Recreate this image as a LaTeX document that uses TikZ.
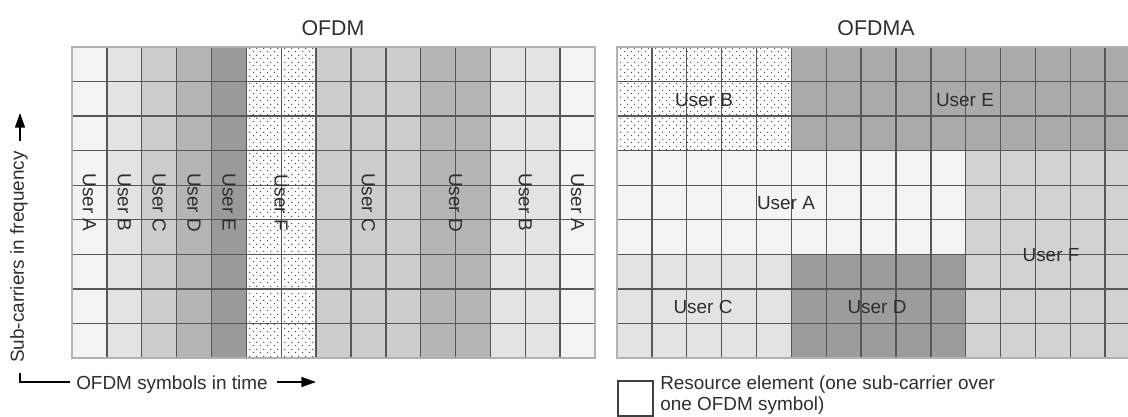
\documentclass[tikz,border=0pt]{standalone}
\usepackage{fontspec}
\setmainfont{Liberation Sans}
\usetikzlibrary{patterns,arrows.meta}

% staggered dot texture for the dotted allocations
\pgfdeclarepatternformonly{finedots}{\pgfqpoint{0pt}{0pt}}{\pgfqpoint{5.25pt}{5.25pt}}{\pgfqpoint{5.25pt}{5.25pt}}{%
  \pgfpathcircle{\pgfqpoint{1.3pt}{1.3pt}}{0.6pt}%
  \pgfpathcircle{\pgfqpoint{3.925pt}{3.925pt}}{0.6pt}%
  \pgfusepath{fill}%
}

\definecolor{shA}{HTML}{F4F4F4}
\definecolor{shB}{HTML}{E3E3E3}
\definecolor{shC}{HTML}{CDCDCD}
\definecolor{shD}{HTML}{B5B5B5}
\definecolor{shE}{HTML}{9A9A9A}
\definecolor{shF}{HTML}{D2D2D2}
\definecolor{shEr}{HTML}{AAAAAA}
\definecolor{shDr}{HTML}{9C9C9C}

\begin{document}
\begin{tikzpicture}[x=0.75pt,y=-0.75pt,
  lbl/.style={font=\fontsize{14.2pt}{17pt}\selectfont, text=black!82, inner sep=0pt},
  ttl/.style={font=\fontsize{16pt}{19pt}\selectfont, text=black!82, inner sep=0pt},
  gridline/.style={draw=black!66, line width=1.05pt},
  frame/.style={draw=black!30, line width=1pt},
  dotfill/.style={pattern=finedots, pattern color=black!72},
  axisarrow/.style={draw=black, line width=1pt, -{Triangle[length=11pt,width=7.5pt]}}]

\useasboundingbox (0,0) rectangle (1128,417);

\def\Lx{72}
\def\Rx{617}
\def\cw{34.87}
\def\Ty{47}
\def\rh{34.56}

% ---------------- OFDM grid ----------------
\foreach \c/\n/\col in {0/1/shA,1/1/shB,2/1/shC,3/1/shD,4/1/shE,7/3/shC,10/2/shD,12/2/shB,14/1/shA}
  \fill[\col] ({\Lx+\c*\cw},\Ty) rectangle ({\Lx+(\c+\n)*\cw},{\Ty+9*\rh});
\fill[dotfill] ({\Lx+5*\cw},\Ty) rectangle ({\Lx+7*\cw},{\Ty+9*\rh});
\foreach \i in {1,...,14}
  \draw[gridline] ({\Lx+\i*\cw},\Ty) -- ({\Lx+\i*\cw},{\Ty+9*\rh});
\foreach \j in {1,...,8}
  \draw[gridline] (\Lx,{\Ty+\j*\rh}) -- ({\Lx+15*\cw},{\Ty+\j*\rh});
\draw[frame] (\Lx,\Ty) rectangle ({\Lx+15*\cw},{\Ty+9*\rh});

\node[ttl] (tofdm) at (333,28) {OFDM};

\foreach \nm/\x/\t in {la1/89.4/User A, lb1/124.3/User B, lc1/159.2/User C, ld1/194.1/User D,
                      le1/229.0/User E, lf1/281.0/User F, lc2/368.4/User C, ld2/455.6/User D,
                      lb2/525.3/User B, la2/577.6/User A}
  \node[lbl, rotate=-90] (\nm) at (\x,202.5) {\t};

% ---------------- OFDMA grid ----------------
\begin{scope}
\clip (\Rx-2,0) rectangle (1128,417);
\fill[shEr] ({\Rx+5*\cw},\Ty) rectangle (1130,{\Ty+3*\rh});
\fill[dotfill] (\Rx,\Ty) rectangle ({\Rx+5*\cw},{\Ty+3*\rh});
\fill[shA] (\Rx,{\Ty+3*\rh}) rectangle ({\Rx+10*\cw},{\Ty+6*\rh});
\fill[shF] ({\Rx+10*\cw},{\Ty+3*\rh}) rectangle (1130,{\Ty+9*\rh});
\fill[shB] (\Rx,{\Ty+6*\rh}) rectangle ({\Rx+5*\cw},{\Ty+9*\rh});
\fill[shDr] ({\Rx+5*\cw},{\Ty+6*\rh}) rectangle ({\Rx+10*\cw},{\Ty+9*\rh});
\foreach \i in {1,...,14}
  \draw[gridline] ({\Rx+\i*\cw},\Ty) -- ({\Rx+\i*\cw},{\Ty+9*\rh});
\foreach \j in {1,...,8}
  \draw[gridline] (\Rx,{\Ty+\j*\rh}) -- (1130,{\Ty+\j*\rh});
\draw[frame] (1130,\Ty) -- (\Rx,\Ty) -- (\Rx,{\Ty+9*\rh}) -- (1130,{\Ty+9*\rh});
\end{scope}

\node[ttl] (tofdma) at (876,28) {OFDMA};

\node[lbl] (rb) at (704,100) {User B};
\node[lbl] (re) at (965,100) {User E};
\node[lbl] (ra) at (786,203) {User A};
\node[lbl] (rf) at (1051,255) {User F};
\node[lbl] (rc) at (703,307) {User C};
\node[lbl] (rd) at (877,307) {User D};

% ---------------- axes ----------------
\node[lbl, rotate=90] (freq) at (19,257) {Sub-carriers in frequency};
\coordinate (fa0) at (20,141);
\coordinate (fa1) at (20,113);
\draw[axisarrow] (fa0) -- (fa1);

\node[lbl, anchor=west] (time) at (76,385) {OFDM symbols in time};
\coordinate (tc) at (20,373);
\coordinate (tl) at (70,382);
\draw[draw=black, line width=1pt] (tc) |- (tl);
\coordinate (ta0) at (277,382);
\coordinate (ta1) at (316,382);
\draw[axisarrow] (ta0) -- (ta1);

% ---------------- legend ----------------
\draw[draw=black!75, line width=1pt, fill=white] (618,381) rectangle (653,416);
\node[lbl, anchor=north west, align=left, font=\fontsize{14.2pt}{15.2pt}\selectfont] (legend) at (660,376)
  {Resource element (one sub-carrier over\\one OFDM symbol)};

\end{tikzpicture}
\end{document}
